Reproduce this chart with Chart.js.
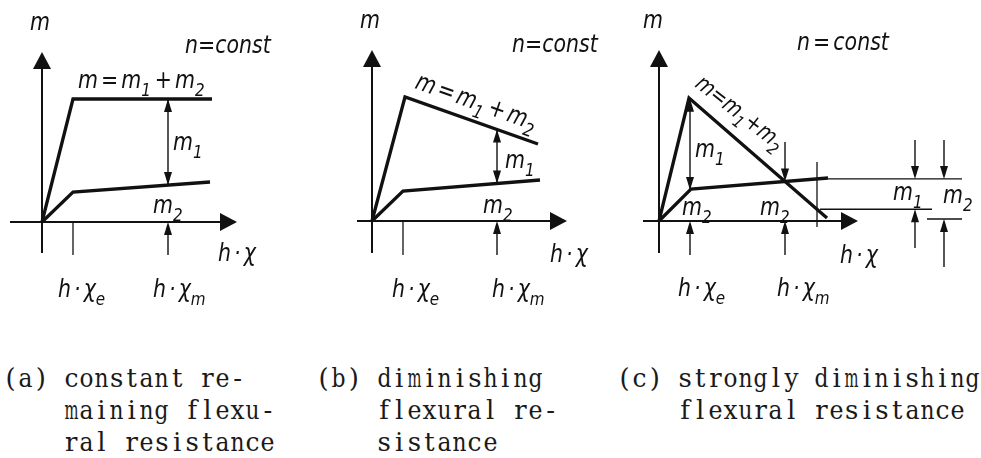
<!DOCTYPE html>
<html>
<head>
<meta charset="utf-8">
<script src="https://cdn.jsdelivr.net/npm/chart.js@4.4.1/dist/chart.umd.min.js"></script>
<style>
  body { margin: 0; background: #fff; width: 981px; height: 458px; position: relative; overflow: hidden; }
  canvas { position: absolute; top: 0; }
  .cap { position: absolute; top: 362px; font: 26px "DejaVu Serif", serif; line-height: 32px;
         white-space: pre; color: #1a1a1a; }
  .cap div { height: 32px; }
  .cap span { display: inline-flex; justify-content: center; width: 15.15px; }
</style>
</head>
<body>
<canvas id="a" width="327" height="320" style="left:0"></canvas>
<canvas id="b" width="300" height="320" style="left:327px"></canvas>
<canvas id="c" width="354" height="320" style="left:627px"></canvas>
<div class="cap" style="left:3px">(a) constant re-
    maining flexu-
    ral resistance</div>
<div class="cap" style="left:316px">(b) diminishing
    flexural re-
    sistance</div>
<div class="cap" style="left:617px">(c) strongly diminishing
    flexural resistance</div>
<script>
// moment m over curvature h*chi, schematic units
// (a) constant remaining flexural resistance
const mA  = [[0, 0], [3.1, 12.3], [17.0, 12.3]];
const m2A = [[0, 0], [3.1, 3.0], [16.8, 4.0]];
// (b) diminishing flexural resistance
const mB  = [[0, 0], [3.3, 12.4], [16.6, 7.7]];
const m2B = [[0, 0], [3.1, 3.0], [16.8, 4.1]];
// (c) strongly diminishing flexural resistance
const mC  = [[0, 0], [3.0, 12.3], [16.8, 0.3]];
const m2C = [[0, 0], [3.2, 3.2], [16.9, 4.3]];
// marked curvatures h*chi_e, h*chi_m per panel, and the extra section in (c)
const hxE = [3.1, 3.1, 3.1];
const hxM = [12.6, 12.5, 12.6];
const hxR = 15.8;
const m2Base = 0.2;

const INK = '#111';
const FONT = '"DejaVu Sans", sans-serif';

// typewriter captions: one fixed cell per character
(function () {
  const mc = document.createElement('canvas').getContext('2d');
  mc.font = '26px "DejaVu Serif"';
  document.querySelectorAll('.cap').forEach(el => {
    const lines = el.textContent.split('\n');
    el.textContent = '';
    lines.forEach(l => {
      const row = document.createElement('div');
      for (const ch of l) {
        const s = document.createElement('span');
        s.textContent = ch === ' ' ? '\u00a0' : ch;
        const w = mc.measureText(ch).width;
        if (w > 14) s.style.transform = 'scaleX(' + (14 / w).toFixed(3) + ')';
        row.appendChild(s);
      }
      el.appendChild(row);
    });
  });
})();

// value of a polyline at x
function at(pts, x) {
  for (let i = 1; i < pts.length; i++) {
    const [x0, y0] = pts[i - 1], [x1, y1] = pts[i];
    if (x <= x1) return y0 + (y1 - y0) * (x - x0) / (x1 - x0);
  }
  return pts[pts.length - 1][1];
}
const xy = pts => pts.map(([x, y]) => ({x, y}));

function seg(ctx, x0, y0, x1, y1) {
  ctx.beginPath(); ctx.moveTo(x0, y0); ctx.lineTo(x1, y1); ctx.stroke();
}
function head(ctx, tx, ty, dx, dy, len, hw) {
  ctx.beginPath();
  ctx.moveTo(tx, ty);
  ctx.lineTo(tx - dx * len - dy * hw, ty - dy * len + dx * hw);
  ctx.lineTo(tx - dx * len + dy * hw, ty - dy * len - dx * hw);
  ctx.closePath(); ctx.fill();
}
// vertical dimension arrow from y0 to tip y1 (pixels)
function arrow(ctx, x, y0, y1) {
  const d = Math.sign(y1 - y0);
  ctx.lineWidth = 1.4;
  seg(ctx, x, y0, x, y1 - d * 10);
  head(ctx, x, y1, 0, d, 13, 4);
}
function dbl(ctx, x, y0, y1) {
  ctx.lineWidth = 1.4;
  seg(ctx, x, y0, x, y1);
  head(ctx, x, y0, 0, Math.sign(y0 - y1), 13, 4);
  head(ctx, x, y1, 0, Math.sign(y1 - y0), 13, 4);
}
// lettering: "_x" puts x as subscript
function math(ctx, str, px, py, angle, size) {
  size = size || 25;
  ctx.save();
  ctx.translate(px, py);
  ctx.rotate((angle || 0) * Math.PI / 180);
  ctx.scale(0.82, 1);
  let x = 0;
  for (let i = 0; i < str.length; i++) {
    let ch = str[i], sub = false;
    if (ch === '_') { ch = str[++i]; sub = true; }
    if (ch === ' ') { x += size * 0.15; continue; }
    ctx.font = 'italic ' + (sub ? size * 0.74 : size) + 'px ' + FONT;
    ctx.fillText(ch, x, sub ? size * 0.3 : 0);
    x += ctx.measureText(ch).width + (sub ? 1 : 0);
  }
  ctx.restore();
}

const sketch = {
  id: 'sketch',
  afterDatasetsDraw(chart, args, o) {
    const {ctx, scales: {x, y}} = chart;
    const X = v => x.getPixelForValue(v), Y = v => y.getPixelForValue(v);
    ctx.save();
    ctx.strokeStyle = INK; ctx.fillStyle = INK; ctx.lineCap = 'butt';
    // axes with filled arrowheads
    ctx.lineWidth = 2;
    seg(ctx, X(o.axisX[0]), Y(0), X(o.axisX[1]) - 14, Y(0));
    head(ctx, X(o.axisX[1]), Y(0), 1, 0, 17, 9);
    seg(ctx, X(0), Y(o.axisY[0]), X(0), Y(o.axisY[1]) + 14);
    head(ctx, X(0), Y(o.axisY[1]), 0, -1, 17, 9);
    // thin ticks
    ctx.lineWidth = 1.3;
    (o.ticks || []).forEach(([tx, t0, t1]) => seg(ctx, X(tx), Y(t0), X(tx), Y(t1)));
    (o.arrows || []).forEach(([ax, a0, a1]) => arrow(ctx, X(ax), Y(a0), Y(a1)));
    (o.dbl || []).forEach(([ax, a0, a1]) => dbl(ctx, X(ax), Y(a0), Y(a1)));
    (o.labels || []).forEach(([t, lx, ly, ang, sz]) => math(ctx, t, X(lx), Y(ly), ang, sz));
    ctx.restore();
  }
};

function panel(id, m, m2, xr, yr, extra, sk) {
  const ds = [
    {data: xy(m), borderWidth: 3.3},
    {data: xy(m2), borderWidth: 3.3}
  ].concat(extra.map(d => ({data: xy(d), borderWidth: 1.4})));
  new Chart(document.getElementById(id), {
    type: 'scatter',
    data: {datasets: ds.map(d => Object.assign(d, {showLine: true, borderColor: INK, pointRadius: 0, tension: 0}))},
    options: {
      responsive: false, animation: false, events: [],
      layout: {padding: 0},
      plugins: {legend: {display: false}, tooltip: {enabled: false}, sketch: sk},
      scales: {
        x: {type: 'linear', display: false, min: xr[0], max: xr[1]},
        y: {type: 'linear', display: false, min: yr[0], max: yr[1]}
      }
    },
    plugins: [sketch]
  });
}

// (a)
panel('a', mA, m2A, [-4.2, 28.5], [-9.8, 22.2], [], {
  axisX: [-3.2, 19.5], axisY: [-3.1, 17.0],
  ticks: [[hxE[0], 0, -3.3]],
  arrows: [[hxM[0], -3.3, 0]],
  dbl: [[hxM[0], at(mA, hxM[0]), at(m2A, hxM[0])]],
  labels: [
    ['m', -1.2, 19.2], ['n=const', 14.3, 16.9],
    ['m = m_1 + m_2', 3.6, 13.4], ['m_1', 13.1, 7.2], ['m_2', 11.1, 0.9],
    ['h · χ', 17.6, -3.9], ['h · χ_e', 1.6, -7.5], ['h · χ_m', 11.1, -7.5]
  ]
});

// (b)
panel('b', mB, m2B, [-4.5, 25.5], [-9.9, 22.1], [], {
  axisX: [-1.5, 19.5], axisY: [-3.2, 17.1],
  ticks: [[hxE[1], 0, -3.4]],
  arrows: [[hxM[1], -3.4, 0]],
  dbl: [[hxM[1], at(mB, hxM[1]), at(m2B, hxM[1])]],
  labels: [
    ['m', -1.2, 19.3], ['n=const', 14.0, 16.9],
    ['m = m_1 + m_2', 4.2, 13.3, 19.5], ['m_1', 13.3, 5.3], ['m_2', 11.1, 0.8],
    ['h · χ', 17.8, -4.1], ['h · χ_e', 2.0, -7.6], ['h · χ_m', 12.0, -7.6]
  ]
});

// (c)
const upR = at(mC, hxR), loR = at(m2C, hxR);
panel('c', mC, m2C, [-3.2, 32.2], [-9.9, 22.1], [
  [[16.9, loR], [30.3, loR]],
  [[16.1, upR], [27.3, upR]],
  [[26.8, m2Base], [30.3, m2Base]]
], {
  axisX: [-1.6, 19.9], axisY: [-3.2, 17.1],
  ticks: [[hxR, 5.9, -0.6]],
  arrows: [
    [hxE[2], -3.4, 0], [hxM[2], -3.4, 0], [hxM[2], 7.9, at(m2C, hxM[2])],
    [25.6, 8.1, loR], [25.6, -2.7, upR],
    [28.5, 8.1, loR], [28.5, -4.6, m2Base]
  ],
  dbl: [[hxE[2], at(mC, hxE[2]), at(m2C, hxE[2])]],
  labels: [
    ['m', -1.6, 19.3], ['n = const', 13.8, 17.1],
    ['m=m_1+m_2', 3.5, 13.5, 38, 23], ['m_1', 3.6, 6.4],
    ['m_2', 2.3, 0.6], ['m_2', 10.1, 0.6],
    ['m_1', 23.4, 2.1], ['m_2', 28.4, 1.8],
    ['h · χ', 18.1, -4.2], ['h · χ_e', 1.9, -7.5], ['h · χ_m', 11.8, -7.5]
  ]
});
</script>
</body>
</html>
